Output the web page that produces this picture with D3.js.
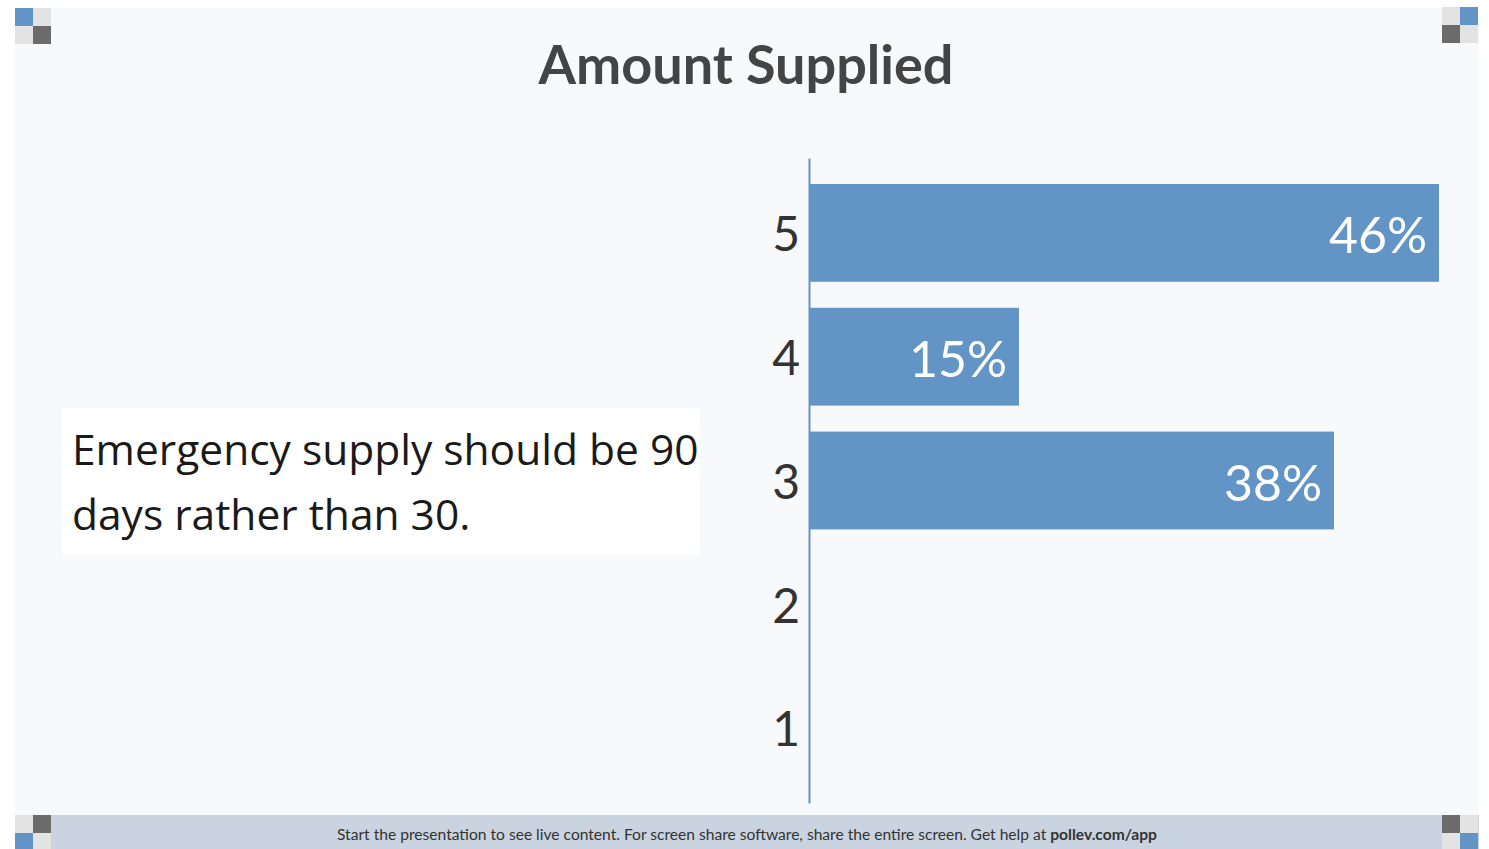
<!DOCTYPE html>
<html>
<head>
<meta charset="utf-8">
<script src="https://cdn.jsdelivr.net/npm/d3@7"></script>
<style>
  body { margin: 0; background: #fff; }
  svg { display: block; }
</style>
</head>
<body>
<svg id="chart" width="1489" height="849"></svg>
<script>
// Poll results (13 responses)
const categories = ["5", "4", "3", "2", "1"];
const percents = [46.15, 15.38, 38.46, 0, 0];
const title = "Amount Supplied";
const promptLines = ["Emergency supply should be 90", "days rather than 30."];

const svg = d3.select("#chart");

// Panel background
svg.append("rect").attr("x", 15).attr("y", 8).attr("width", 1464).attr("height", 807).attr("fill", "#f8f9fa");

// Footer bar
svg.append("rect").attr("x", 15).attr("y", 815).attr("width", 1464).attr("height", 34).attr("fill", "#c9d4e0");

const footer = svg.append("text")
  .attr("x", 747).attr("y", 840)
  .attr("text-anchor", "middle")
  .attr("font-family", "Lato, sans-serif")
  .attr("font-size", 15.6)
  .attr("fill", "#333");
footer.append("tspan").text("Start the presentation to see live content. For screen share software, share the entire screen. Get help at ");
footer.append("tspan").attr("font-weight", "bold").text("pollev.com/app");

// Corner squares
const blue = "#6394c6", light = "#e3e3e3", dark = "#6b6b6b";
const corners = [
  { x: 15, y: 8, c: [[blue, light], [light, dark]] },
  { x: 1442, y: 7, c: [[light, blue], [dark, light]] },
  { x: 15, y: 815, c: [[light, dark], [blue, light]] },
  { x: 1442, y: 815, c: [[dark, light], [light, blue]] }
];
corners.forEach((k) => {
  k.c.forEach((row, r) => {
    row.forEach((col, c) => {
      svg.append("rect")
        .attr("x", k.x + c * 18).attr("y", k.y + r * 18)
        .attr("width", 18).attr("height", 18)
        .attr("fill", col);
    });
  });
});

// Title
svg.append("text")
  .attr("x", 746).attr("y", 84)
  .attr("text-anchor", "middle")
  .attr("font-family", "Lato, sans-serif")
  .attr("font-weight", "bold")
  .attr("font-size", 54)
  .attr("fill", "#444")
  .text(title);

// Prompt box
svg.append("rect").attr("x", 62).attr("y", 408).attr("width", 638).attr("height", 147).attr("fill", "#fff");
svg.append("g").selectAll("text")
  .data(promptLines)
  .enter()
  .append("text")
  .attr("x", 72)
  .attr("y", (d, i) => 465 + i * 65)
  .attr("font-family", "'Open Sans', sans-serif")
  .attr("font-size", 42.5)
  .attr("fill", "#1a1a1a")
  .text((d) => d);

// Scales
const x = d3.scaleLinear().domain([0, d3.max(percents)]).range([809, 1439]);
const y = d3.scaleBand().domain(categories).range([158, 803]).padding(0.21);

// Bars
svg.append("g").selectAll("rect")
  .data(categories)
  .enter()
  .append("rect")
  .attr("x", x(0))
  .attr("y", (d) => y(d))
  .attr("width", (d, i) => x(percents[i]) - x(0))
  .attr("height", y.bandwidth())
  .attr("fill", "#6394c6");

// Value labels
svg.append("g").selectAll("text")
  .data(categories.filter((d, i) => percents[i] > 0))
  .enter()
  .append("text")
  .attr("x", (d) => x(percents[categories.indexOf(d)]) - 12)
  .attr("y", (d) => y(d) + y.bandwidth() / 2 + 20)
  .attr("text-anchor", "end")
  .attr("font-family", "Lato, sans-serif")
  .attr("font-size", 50)
  .attr("fill", "#fff")
  .text((d) => Math.round(percents[categories.indexOf(d)]) + "%");

// Axis
const axis = svg.append("g")
  .attr("transform", `translate(${x(0)},0)`)
  .call(d3.axisLeft(y).tickSize(0).tickPadding(9));
axis.select(".domain").attr("stroke", "#6394c6").attr("stroke-width", 2);
axis.selectAll("text")
  .attr("font-family", "Lato, sans-serif")
  .attr("font-size", 48)
  .attr("fill", "#333")
  .attr("dy", "0.38em");
</script>
</body>
</html>
